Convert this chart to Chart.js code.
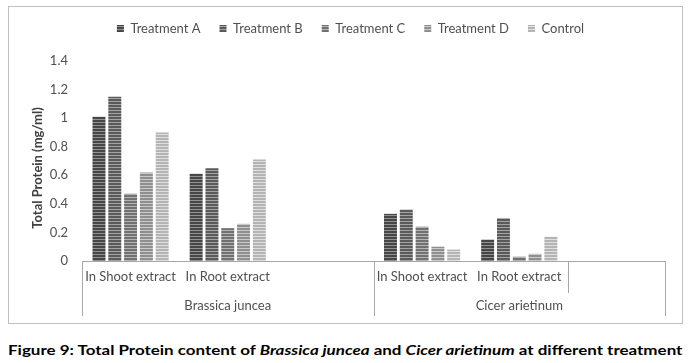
<!DOCTYPE html>
<html><head><meta charset="utf-8">
<script src="https://cdn.jsdelivr.net/npm/chart.js@4.4.1/dist/chart.umd.min.js"></script>
<style>
body{margin:0;background:#fff;width:689px;height:363px;overflow:hidden;position:relative;font-family:Lato,sans-serif}
#wrap{position:absolute;left:0;top:0;width:689px;height:330px}
#frame{position:absolute;left:8px;top:6px;width:673px;height:316px;border:1px solid #c0c0c0;pointer-events:none}
#cap{position:absolute;left:8px;top:341px;white-space:nowrap;font-weight:bold;font-size:14px;line-height:17px;color:#000;transform-origin:0 0}
</style></head><body>
<div id="wrap"><canvas id="c" width="689" height="330"></canvas></div>
<div id="frame"></div>
<div id="cap">Figure 9: Total Protein content of <i>Brassica juncea</i> and <i>Cicer arietinum</i> at different treatment</div>
<script>
// ---- data ----
const categories = ['In Shoot extract', 'In Root extract', '', 'In Shoot extract', 'In Root extract', ''];
const groups = ['Brassica juncea', 'Cicer arietinum'];
const groupSpans = [3, 3];
const seriesNames = ['Treatment A', 'Treatment B', 'Treatment C', 'Treatment D', 'Control'];
const treatmentA = [1.01, 0.61, null, 0.33, 0.15, null];
const treatmentB = [1.15, 0.65, null, 0.36, 0.30, null];
const treatmentC = [0.47, 0.23, null, 0.24, 0.03, null];
const treatmentD = [0.62, 0.26, null, 0.10, 0.05, null];
const control    = [0.90, 0.71, null, 0.08, 0.17, null];
const yTicks = [0, 0.2, 0.4, 0.6, 0.8, 1, 1.2, 1.4];
const yTitle = 'Total Protein (mg/ml)';

// ---- styles ----
const canvas = document.getElementById('c');
const ctx = canvas.getContext('2d');
function stripe(dark, light) {
  const c = document.createElement('canvas'); c.width = 4; c.height = 3;
  const x = c.getContext('2d');
  x.fillStyle = light; x.fillRect(0, 0, 4, 3);
  x.fillStyle = dark; x.fillRect(0, 0, 4, 2);
  return ctx.createPattern(c, 'repeat');
}
const fills = [
  stripe('#464646', '#929292'),
  stripe('#5a5a5a', '#a3a3a3'),
  stripe('#717171', '#b5b5b5'),
  stripe('#8f8f8f', '#c9c9c9'),
  stripe('#b4b4b4', '#e0e0e0')
];
const seriesData = [treatmentA, treatmentB, treatmentC, treatmentD, control];
const FONT = 'Lato, sans-serif';
const TXT = '#505050';
const AXIS = '#a6a6a6';

const multiLevel = {
  id: 'multiLevel',
  beforeLayout(chart) {
    const lg = chart.legend;
    if (lg && !lg._patched) {
      const f = lg.fit;
      lg.fit = function () { f.call(this); this.height = 61; };
      const d = lg.draw;
      lg.draw = function () {
        this.ctx.save(); this.ctx.translate(18, 3);
        d.apply(this, arguments);
        this.ctx.restore();
      };
      lg._patched = true;
    }
  },
  afterDraw(chart) {
    const x = chart.scales.x, area = chart.chartArea;
    const n = categories.length;
    const w = (x.right - x.left) / n;
    const c = chart.ctx;
    c.save();
    c.strokeStyle = AXIS; c.lineWidth = 1;
    const vline = (i, y2) => {
      const px = Math.round(x.left + i * w) + 0.5;
      c.beginPath(); c.moveTo(px, area.bottom); c.lineTo(px, y2); c.stroke();
    };
    let idx = 0;
    vline(0, 316);
    c.font = '13px ' + FONT; c.fillStyle = TXT; c.textAlign = 'center'; c.textBaseline = 'middle';
    groups.forEach((g, gi) => {
      const start = idx, end = idx + groupSpans[gi];
      c.fillText(g, x.left + (start + end) / 2 * w, 306);
      idx = end;
      vline(end, 316);
    });
    vline(5, 293);
    // y title
    c.translate(38, 168); c.rotate(-Math.PI / 2);
    c.font = 'bold 13px ' + FONT; c.fillStyle = '#404040';
    c.fillText(yTitle, 0, 0);
    c.restore();
  }
};

new Chart(ctx, {
  type: 'bar',
  data: {
    labels: categories,
    datasets: seriesNames.map((name, i) => ({
      label: name,
      data: seriesData[i],
      backgroundColor: fills[i],
      borderWidth: 0,
      categoryPercentage: 0.813,
      barPercentage: 0.82
    }))
  },
  options: {
    responsive: false,
    animation: false,
    layout: { padding: { left: 0, right: 24, top: 0, bottom: 0 } },
    plugins: {
      legend: {
        position: 'top',
        labels: {
          boxWidth: 7, boxHeight: 7, padding: 19,
          color: TXT, font: { family: FONT, size: 13 }
        }
      },
      tooltip: { enabled: false }
    },
    scales: {
      x: {
        grid: { display: false, drawTicks: false },
        border: { display: true, color: AXIS, width: 1 },
        ticks: { color: TXT, font: { family: FONT, size: 13 }, padding: 8, maxRotation: 0, autoSkip: false },
        afterFit(s) { s.height = 69; }
      },
      y: {
        min: 0, max: 1.4,
        grid: { display: false, drawTicks: false },
        border: { display: false },
        afterBuildTicks(s) { s.ticks = yTicks.map(v => ({ value: v })); },
        ticks: {
          color: TXT, font: { family: FONT, size: 13 }, padding: 14,
          callback: v => String(+v.toFixed(1))
        },
        afterFit(s) { s.width = 82; }
      }
    }
  },
  plugins: [multiLevel]
});

// fit caption width to reference
const cap = document.getElementById('cap');
const target = 675;
cap.style.transform = 'scaleX(' + (target / cap.offsetWidth) + ')';
</script>
</body></html>
